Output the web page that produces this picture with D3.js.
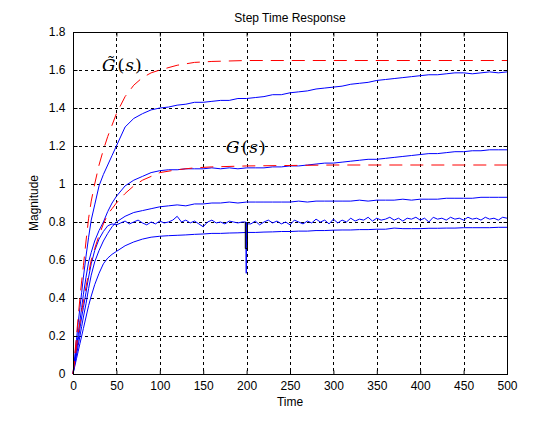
<!DOCTYPE html>
<html>
<head>
<meta charset="utf-8">
<script src="https://cdn.jsdelivr.net/npm/d3@7"></script>
<style>
  body { margin: 0; background: #fff; }
  text { font-family: Arial, "Liberation Sans", sans-serif; fill: #000; }
  .math { font-family: "DejaVu Serif", "Liberation Serif", serif; }
</style>
</head>
<body>
<div id="chart"></div>
<script>
// ---- data ----
const xTicks = [0, 50, 100, 150, 200, 250, 300, 350, 400, 450, 500];
const yTicks = [0, 0.2, 0.4, 0.6, 0.8, 1, 1.2, 1.4, 1.6, 1.8];
const yTickLabels = ["0", "0.2", "0.4", "0.6", "0.8", "1", "1.2", "1.4", "1.6", "1.8"];

// time samples (rise part is denser)
const tRise = [0, 2, 4, 6, 8, 10, 12, 15, 18, 21, 25, 30, 35, 40, 45, 50];
const tTail = d3.range(60, 501, 10);
const tBlue = tRise.concat(tTail);
const tRed = [0, 2, 4, 6, 8, 10, 12, 15, 18, 21, 25, 30, 35, 40, 45, 50, 60, 70, 80, 90, 100, 120, 140, 160, 200, 300, 400, 500];

// red dashed: G~(s) and G(s)
const gTilde = [0, 0.10, 0.20, 0.30, 0.40, 0.49, 0.57, 0.70, 0.82, 0.91, 1.00, 1.10, 1.18, 1.25, 1.31, 1.37,
  1.46, 1.52, 1.56, 1.585, 1.60, 1.625, 1.64, 1.645, 1.65, 1.65, 1.65, 1.65];
const gNominal = [0, 0.07, 0.14, 0.21, 0.27, 0.33, 0.38, 0.46, 0.53, 0.60, 0.66, 0.73, 0.79, 0.84, 0.87, 0.90,
  0.95, 0.99, 1.02, 1.04, 1.06, 1.075, 1.085, 1.09, 1.095, 1.10, 1.10, 1.10];

// blue responses
const blue1 = [0, 0.09, 0.18, 0.27, 0.35, 0.43, 0.51, 0.62, 0.72, 0.81, 0.89, 0.99, 1.05, 1.10, 1.15, 1.20,
  1.30, 1.345, 1.37, 1.39, 1.40, 1.405, 1.415, 1.42, 1.43, 1.43, 1.435, 1.44, 1.44, 1.45, 1.45,
  1.455, 1.46, 1.47, 1.47, 1.48, 1.485, 1.49, 1.50, 1.505, 1.51, 1.515, 1.525, 1.53, 1.535, 1.545,
  1.55, 1.555, 1.56, 1.565, 1.57, 1.575, 1.575, 1.58, 1.585, 1.585, 1.58, 1.585, 1.59, 1.585, 1.59];
const blue2 = [0, 0.07, 0.14, 0.21, 0.28, 0.35, 0.42, 0.51, 0.59, 0.64, 0.70, 0.755, 0.80, 0.855, 0.90, 0.935,
  0.99, 1.02, 1.04, 1.06, 1.07, 1.075, 1.075, 1.08, 1.08, 1.08, 1.085, 1.08, 1.085, 1.08, 1.085,
  1.085, 1.085, 1.09, 1.09, 1.095, 1.095, 1.10, 1.105, 1.11, 1.11, 1.115, 1.12, 1.125, 1.13, 1.13,
  1.135, 1.14, 1.145, 1.15, 1.155, 1.16, 1.16, 1.165, 1.17, 1.17, 1.175, 1.175, 1.18, 1.18, 1.18];
const blue3 = [0, 0.05, 0.10, 0.15, 0.20, 0.25, 0.30, 0.37, 0.45, 0.52, 0.59, 0.65, 0.70, 0.74, 0.775, 0.80,
  0.83, 0.85, 0.86, 0.87, 0.88, 0.885, 0.89, 0.885, 0.895, 0.895, 0.90, 0.90, 0.905, 0.90, 0.905,
  0.905, 0.905, 0.905, 0.905, 0.905, 0.91, 0.905, 0.91, 0.91, 0.91, 0.91, 0.91, 0.915, 0.91, 0.915,
  0.915, 0.915, 0.92, 0.915, 0.92, 0.92, 0.92, 0.925, 0.925, 0.925, 0.925, 0.93, 0.93, 0.93, 0.93];
const blue5 = [0, 0.04, 0.08, 0.12, 0.16, 0.20, 0.24, 0.30, 0.36, 0.41, 0.47, 0.53, 0.58, 0.61, 0.63, 0.645,
  0.675, 0.695, 0.71, 0.72, 0.725, 0.728, 0.73, 0.732, 0.735, 0.737, 0.74, 0.74, 0.742, 0.743, 0.745,
  0.745, 0.747, 0.748, 0.75, 0.75, 0.752, 0.752, 0.755, 0.755, 0.757, 0.758, 0.758, 0.76, 0.76, 0.762,
  0.762, 0.768, 0.765, 0.765, 0.765, 0.767, 0.767, 0.768, 0.768, 0.77, 0.77, 0.77, 0.77, 0.772, 0.772];

// noisy response near 0.8, sampled every 5 after the rise, with the dip at t = 200
const tNoisy = [0, 2, 4, 6, 8, 10, 12, 15, 18, 21, 25, 30, 35, 40, 45, 50].concat(d3.range(55, 501, 5));
const blue4 = [0, 0.06, 0.12, 0.18, 0.24, 0.30, 0.35, 0.43, 0.51, 0.58, 0.65, 0.71, 0.75, 0.78, 0.79, 0.785,
  0.795, 0.805, 0.79, 0.80, 0.81, 0.795, 0.785, 0.80, 0.79, 0.805, 0.795, 0.80, 0.81, 0.83, 0.80,
  0.81, 0.795, 0.805, 0.79, 0.775, 0.80, 0.81, 0.795, 0.80, 0.79, 0.805, 0.80, 0.795, 0.80, 0.80,
  0.79, 0.805, 0.785, 0.80, 0.81, 0.795, 0.805, 0.79, 0.80, 0.785, 0.81, 0.80, 0.79, 0.805, 0.795,
  0.815, 0.80, 0.81, 0.79, 0.815, 0.795, 0.81, 0.80, 0.82, 0.805, 0.815, 0.81, 0.825, 0.805, 0.82,
  0.81, 0.815, 0.825, 0.81, 0.82, 0.805, 0.82, 0.815, 0.825, 0.81, 0.82, 0.80, 0.825, 0.815, 0.82,
  0.81, 0.825, 0.815, 0.82, 0.81, 0.825, 0.815, 0.82, 0.81, 0.825, 0.815, 0.82, 0.81, 0.825, 0.82];
const dipT = [199, 199.6, 200.2];
const dipV = [0.80, 0.53, 0.79];
const boxT = [198.5, 198.5, 201, 201];
const boxV = [0.80, 0.66, 0.66, 0.80];

// ---- layout ----
const W = 560, H = 440;
const mLeft = 73, mRight = 507, mTop = 32, mBottom = 374;

const svg = d3.select("#chart").append("svg")
  .attr("width", W)
  .attr("height", H);

const x = d3.scaleLinear().domain([0, 500]).range([mLeft, mRight]);
const y = d3.scaleLinear().domain([0, 1.8]).range([mBottom, mTop]);
const px = v => Math.round(x(v)) + 0.5;
const py = v => Math.round(y(v)) + 0.5;

// grid
svg.append("g").selectAll("line")
  .data(xTicks.slice(1, -1))
  .join("line")
  .attr("x1", d => px(d)).attr("x2", d => px(d))
  .attr("y1", mTop).attr("y2", mBottom)
  .attr("stroke", "#000").attr("stroke-width", 1)
  .attr("stroke-dasharray", "3,3");

svg.append("g").selectAll("line")
  .data(yTicks.slice(1, -1))
  .join("line")
  .attr("x1", mLeft).attr("x2", mRight)
  .attr("y1", d => py(d)).attr("y2", d => py(d))
  .attr("stroke", "#000").attr("stroke-width", 1)
  .attr("stroke-dasharray", "3,3");

// curves
const line = d3.line().x(d => x(d[0])).y(d => y(d[1]));
const zip = (ts, vs) => ts.map((t, i) => [t, vs[i]]);

const plot = svg.append("g");
[blue1, blue2, blue3, blue5].forEach(vs => {
  plot.append("path")
    .datum(zip(tBlue, vs))
    .attr("d", line)
    .attr("fill", "none")
    .attr("stroke", "#0000ff")
    .attr("stroke-width", 1);
});

const noisy = zip(tNoisy, blue4).concat(zip(dipT, dipV)).sort((a, b) => a[0] - b[0]);
plot.append("path")
  .datum(noisy)
  .attr("d", line)
  .attr("fill", "none")
  .attr("stroke", "#0000ff")
  .attr("stroke-width", 1);

plot.append("path")
  .datum(zip(boxT, boxV))
  .attr("d", line)
  .attr("fill", "none")
  .attr("stroke", "#000")
  .attr("stroke-width", 1);

[gTilde, gNominal].forEach(vs => {
  plot.append("path")
    .datum(zip(tRed, vs))
    .attr("d", line)
    .attr("fill", "none")
    .attr("stroke", "#ff0000")
    .attr("stroke-width", 1)
    .attr("stroke-dasharray", "13,8");
});

// axes with inward ticks
svg.append("g")
  .attr("transform", `translate(0,${mBottom + 0.5})`)
  .call(d3.axisBottom(x).tickValues(xTicks).tickSize(-4).tickPadding(7).tickSizeOuter(0));
svg.append("g")
  .attr("transform", `translate(${mLeft + 0.5},0)`)
  .call(d3.axisLeft(y).tickValues(yTicks).tickSize(-4).tickPadding(8).tickSizeOuter(0)
    .tickFormat((d, i) => yTickLabels[i]));
svg.append("g")
  .attr("transform", `translate(0,${mTop + 0.5})`)
  .call(d3.axisTop(x).tickValues(xTicks).tickSize(-4).tickFormat("").tickSizeOuter(0));
svg.append("g")
  .attr("transform", `translate(${mRight + 0.5},0)`)
  .call(d3.axisRight(y).tickValues(yTicks).tickSize(-4).tickFormat("").tickSizeOuter(0));

svg.selectAll(".domain").remove();
svg.selectAll(".tick line").attr("stroke", "#000");
svg.selectAll(".tick text")
  .attr("fill", "#000")
  .style("font-size", "12px")
  .style("font-family", "Arial, 'Liberation Sans', sans-serif");

// box
svg.append("rect")
  .attr("x", mLeft + 0.5).attr("y", mTop + 0.5)
  .attr("width", mRight - mLeft).attr("height", mBottom - mTop)
  .attr("fill", "none").attr("stroke", "#000").attr("stroke-width", 1);

// titles
svg.append("text")
  .attr("x", (mLeft + mRight) / 2).attr("y", 22)
  .attr("text-anchor", "middle")
  .style("font-size", "12px")
  .text("Step Time Response");

svg.append("text")
  .attr("x", (mLeft + mRight) / 2).attr("y", 406)
  .attr("text-anchor", "middle")
  .style("font-size", "12px")
  .text("Time");

svg.append("text")
  .attr("transform", `translate(38,${(mTop + mBottom) / 2}) rotate(-90)`)
  .attr("text-anchor", "middle")
  .style("font-size", "12px")
  .text("Magnitude");

// curve labels (tilde as a combining accent on the G)
function mathLabel(xp, yp, g) {
  const t = svg.append("text").attr("class", "math")
    .attr("x", xp).attr("y", yp)
    .style("font-size", "17px");
  t.append("tspan").style("font-style", "italic").text(g);
  t.append("tspan").attr("dx", 2).text("(");
  t.append("tspan").attr("dx", 1).style("font-style", "italic").text("s");
  t.append("tspan").attr("dx", 1).text(")");
}
mathLabel(102, 71, "G\u0303");
mathLabel(226, 153, "G");
</script>
</body>
</html>
